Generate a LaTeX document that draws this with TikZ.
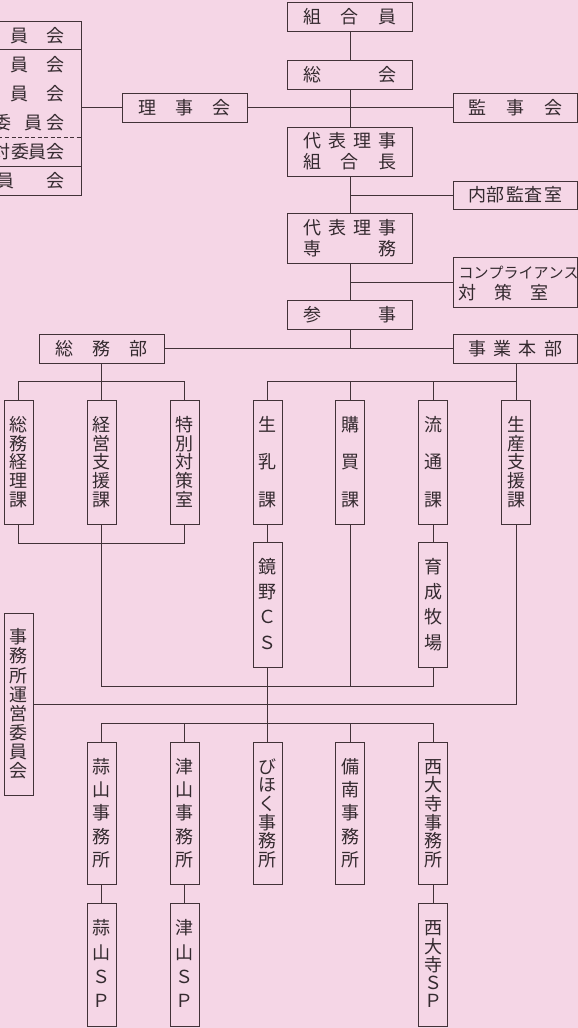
\documentclass[tikz,border=0pt]{standalone}
\usepackage{fontspec}
\setmainfont{Noto Sans CJK JP}
\definecolor{bgpink}{RGB}{245,214,230}
\definecolor{ln}{RGB}{66,50,56}
\definecolor{tx}{RGB}{52,42,47}
\newcommand\hl[2]{\hbox{\vrule height17pt depth0pt width0pt\raisebox{1.7pt}{\smash{\makebox[#1][s]{#2}}}}}
\newcommand\cc[1]{\hl{18pt}{\hfil#1\hfil}}
\newcommand\vc[1]{\hbox to 18pt{\hss\vrule height17pt depth0pt width0pt\raisebox{1.7pt}{\smash{#1}}\hss}}
\newcommand\vt[2]{\vbox to #1{\offinterlineskip #2}}
\newcommand\two[2]{\vbox{\offinterlineskip #1\kern4pt #2}}
\tikzset{
  hbx/.style={draw=ln, line width=1pt, inner sep=0pt, text=tx, minimum width=125pt, minimum height=29pt},
  vbx/.style={draw=ln, line width=1pt, inner sep=0pt, text=tx, minimum width=29pt},
  conn/.style={draw=ln, line width=1pt},
  chr/.style={inner sep=0pt, text=tx}
}
\begin{document}
\begin{tikzpicture}[x=1pt, y=-1pt, font=\fontsize{18}{21}\selectfont]
\fill[bgpink] (0,0) rectangle (578,1028);
\useasboundingbox (0,0) rectangle (578,1028);
% central column
\node[hbx] (kumiai) at (350,17) {\hl{93pt}{組\hfill{}合\hfill{}員}};
\node[hbx] (soukai) at (350,74.5) {\hl{93pt}{総\hfill{}会}};
\node[hbx, minimum height=49pt] (rijicho) at (350,151.5) {\two{\hl{93pt}{代\hfill{}表\hfill{}理\hfill{}事}}{\hl{93pt}{組\hfill{}合\hfill{}長}}};
\node[hbx, minimum height=50pt] (senmu) at (350,238) {\two{\hl{93pt}{代\hfill{}表\hfill{}理\hfill{}事}}{\hl{93pt}{専\hfill{}務}}};
\node[hbx] (sanji) at (350,315) {\hl{93pt}{参\hfill{}事}};
% right column
\node[hbx, minimum width=124pt] (kanji) at (515,107.5) {\hl{94pt}{監\hfill{}事\hfill{}会}};
\node[hbx, minimum width=124pt, minimum height=28pt] (naibu) at (515,195) {\hl{94pt}{内\hfill{}部\hfill{}監\hfill{}査\hfill{}室}};
\node[hbx, minimum width=124pt, minimum height=50pt] (comp) at (515,282) {\two{\hl{113pt}{\fontsize{15}{17}\selectfont{}コ\hfill{}ン\hfill{}プ\hfill{}ラ\hfill{}イ\hfill{}ア\hfill{}ン\hfill{}ス}}{\hl{90pt}{対\hfill{}策\hfill{}室}}};
\node[hbx, minimum width=124pt] (jigyo) at (515,348.5) {\hl{94pt}{事\hfill{}業\hfill{}本\hfill{}部}};
% left
\node[hbx] (rijikai) at (184.5,107.5) {\hl{93pt}{理\hfill{}事\hfill{}会}};
\node[hbx] (somu) at (101.5,348.5) {\hl{93pt}{総\hfill{}務\hfill{}部}};
\node[draw=ln, line width=1pt, inner sep=0pt, minimum width=141pt, minimum height=174pt] (comm) at (10.5,108) {};
\draw[conn] (-60,49.5) -- (81,49.5);
\draw[conn, dash pattern=on 4pt off 2.5pt] (-60,137) -- (81,137);
\draw[conn] (-60,166) -- (81,166);
\node[chr] (c11) at (19,36) {\cc{員}};
\node[chr] (c12) at (55.5,36) {\cc{会}};
\node[chr] (c21) at (19,65) {\cc{員}};
\node[chr] (c22) at (55.5,65) {\cc{会}};
\node[chr] (c31) at (19,93.5) {\cc{員}};
\node[chr] (c32) at (55.5,93.5) {\cc{会}};
\node[chr] (c40) at (2.5,122.5) {\cc{委}};
\node[chr] (c41) at (33,122.5) {\cc{員}};
\node[chr] (c42) at (55.5,122.5) {\cc{会}};
\node[chr] (c50) at (2,151.5) {\cc{対}};
\node[chr] (c51) at (20,151.5) {\cc{委}};
\node[chr] (c52) at (37.5,151.5) {\cc{員}};
\node[chr] (c53) at (55.5,151.5) {\cc{会}};
\node[chr] (c61) at (5.5,180.5) {\cc{員}};
\node[chr] (c62) at (55.5,180.5) {\cc{会}};
% second tier
\node[vbx, minimum height=124pt] (keiri) at (18.5,462) {\vt{92pt}{\vc{総}\vfill\vc{務}\vfill\vc{経}\vfill\vc{理}\vfill\vc{課}}};
\node[vbx, minimum height=124pt] (keiei) at (101.5,462) {\vt{92pt}{\vc{経}\vfill\vc{営}\vfill\vc{支}\vfill\vc{援}\vfill\vc{課}}};
\node[vbx, minimum height=124pt] (toku) at (184.5,462) {\vt{92pt}{\vc{特}\vfill\vc{別}\vfill\vc{対}\vfill\vc{策}\vfill\vc{室}}};
\node[vbx, minimum height=124pt] (nyu) at (267.5,462) {\vt{92pt}{\vc{生}\vfill\vc{乳}\vfill\vc{課}}};
\node[vbx, minimum height=124pt] (kobai) at (350,462) {\vt{92pt}{\vc{購}\vfill\vc{買}\vfill\vc{課}}};
\node[vbx, minimum height=124pt] (ryutsu) at (433,462) {\vt{92pt}{\vc{流}\vfill\vc{通}\vfill\vc{課}}};
\node[vbx, minimum height=124pt] (seisan) at (516,462) {\vt{92pt}{\vc{生}\vfill\vc{産}\vfill\vc{支}\vfill\vc{援}\vfill\vc{課}}};
% third tier
\node[vbx, minimum height=125pt] (kagamino) at (267.5,604.5) {\vt{93pt}{\vc{鏡}\vfill\vc{野}\vfill\vc{Ｃ}\vfill\vc{Ｓ}}};
\node[vbx, minimum height=125pt] (ikusei) at (433,604.5) {\vt{93pt}{\vc{育}\vfill\vc{成}\vfill\vc{牧}\vfill\vc{場}}};
\node[vbx, minimum height=182pt] (unei) at (18.5,704) {\vt{151pt}{\vc{事}\vfill\vc{務}\vfill\vc{所}\vfill\vc{運}\vfill\vc{営}\vfill\vc{委}\vfill\vc{員}\vfill\vc{会}}};
% offices
\node[vbx, minimum height=142pt] (hiruzen) at (101.5,813) {\vt{110.5pt}{\vc{蒜}\vfill\vc{山}\vfill\vc{事}\vfill\vc{務}\vfill\vc{所}}};
\node[vbx, minimum height=142pt] (tsuyama) at (184.5,813) {\vt{110.5pt}{\vc{津}\vfill\vc{山}\vfill\vc{事}\vfill\vc{務}\vfill\vc{所}}};
\node[vbx, minimum height=142pt] (bihoku) at (267.5,813) {\vt{110.5pt}{\vc{び}\vfill\vc{ほ}\vfill\vc{く}\vfill\vc{事}\vfill\vc{務}\vfill\vc{所}}};
\node[vbx, minimum height=142pt] (binan) at (350,813) {\vt{110.5pt}{\vc{備}\vfill\vc{南}\vfill\vc{事}\vfill\vc{務}\vfill\vc{所}}};
\node[vbx, minimum height=142pt] (saidaiji) at (433,813) {\vt{110.5pt}{\vc{西}\vfill\vc{大}\vfill\vc{寺}\vfill\vc{事}\vfill\vc{務}\vfill\vc{所}}};
% SP
\node[vbx, minimum height=123pt] (hiruzensp) at (101.5,964.5) {\vt{90pt}{\vc{蒜}\vfill\vc{山}\vfill\vc{Ｓ}\vfill\vc{Ｐ}}};
\node[vbx, minimum height=123pt] (tsuyamasp) at (184.5,964.5) {\vt{90pt}{\vc{津}\vfill\vc{山}\vfill\vc{Ｓ}\vfill\vc{Ｐ}}};
\node[vbx, minimum height=123pt] (saidaijisp) at (433,964.5) {\vt{90pt}{\vc{西}\vfill\vc{大}\vfill\vc{寺}\vfill\vc{Ｓ}\vfill\vc{Ｐ}}};
% bar coordinates
\coordinate (bar1) at (0,381);
\coordinate (bar2) at (0,543);
\coordinate (bar3) at (0,686);
\coordinate (bar5) at (0,723);
% connectors top
\draw[conn] (kumiai) -- (soukai);
\draw[conn] (soukai) -- (rijicho);
\draw[conn] (rijicho) -- (senmu);
\draw[conn] (senmu) -- (sanji);
\draw[conn] (comm.east |- rijikai.west) -- (rijikai.west);
\draw[conn] (rijikai.east) -- (kanji.west);
\draw[conn] (naibu.west) -- (naibu.west -| senmu.north);
\draw[conn] (comp.west) -- (comp.west -| sanji.north);
\draw[conn] (somu.east) -- (jigyo.west);
\draw[conn] (sanji.south) -- (sanji.south |- jigyo.west);
% second tier connectors
\draw[conn] (somu.south -| keiei.north) -- (keiei.north);
\draw[conn] (keiri.north) |- (toku.north |- bar1) -- (toku.north);
\draw[conn] (jigyo.south -| seisan.north) -- (seisan.north);
\draw[conn] (nyu.north) |- (seisan.north |- bar1);
\draw[conn] (kobai.north) -- (kobai.north |- bar1);
\draw[conn] (ryutsu.north) -- (ryutsu.north |- bar1);
% lower connectors
\draw[conn] (nyu) -- (kagamino);
\draw[conn] (ryutsu) -- (ikusei);
\draw[conn] (keiri.south) |- (toku.south |- bar2) -- (toku.south);
\draw[conn] (keiei.south) -- (keiei.south |- bar3) -- (ikusei.south |- bar3) -- (ikusei.south);
\draw[conn] (kobai.south) -- (kobai.south |- bar3);
\draw[conn] (unei.east) -- (unei.east -| seisan.south) -- (seisan.south);
\draw[conn] (kagamino.south) -- (bihoku.north);
\draw[conn] (hiruzen.north) |- (saidaiji.north |- bar5) -- (saidaiji.north);
\draw[conn] (tsuyama.north) -- (tsuyama.north |- bar5);
\draw[conn] (binan.north) -- (binan.north |- bar5);
\draw[conn] (hiruzen) -- (hiruzensp);
\draw[conn] (tsuyama) -- (tsuyamasp);
\draw[conn] (saidaiji) -- (saidaijisp);
\end{tikzpicture}
\end{document}
